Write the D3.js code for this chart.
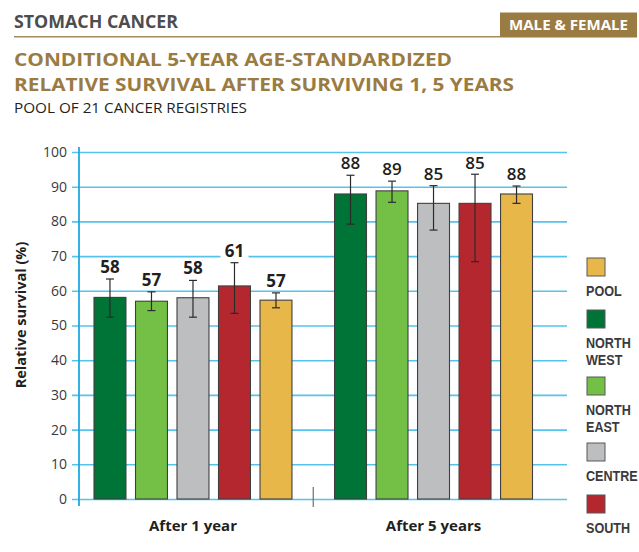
<!DOCTYPE html>
<html>
<head>
<meta charset="utf-8">
<script src="https://cdn.jsdelivr.net/npm/d3@7"></script>
<style>
  html, body { margin: 0; padding: 0; background: #fff; }
  svg { display: block; font-family: "Open Sans", "Noto Sans", sans-serif; }
</style>
</head>
<body>
<svg id="chart" width="639" height="552"></svg>
<script>
// ---- data ----
const groups = ["After 1 year", "After 5 years"];
const regions = ["NORTH WEST", "NORTH EAST", "CENTRE", "SOUTH", "POOL"];
const regionColors = ["#007337", "#74bf45", "#bcbec0", "#b5272f", "#e7b74a"];
const values1 = [58.1, 57.0, 58.0, 61.4, 57.3];
const errLow1 = [52.4, 54.3, 52.4, 53.5, 55.1];
const errHigh1 = [63.4, 59.7, 63.0, 68.1, 59.4];
const labels1 = ["58", "57", "58", "61", "57"];
const values5 = [87.9, 88.8, 85.2, 85.2, 87.9];
const errLow5 = [79.2, 85.5, 77.5, 68.4, 85.2];
const errHigh5 = [93.3, 91.6, 90.3, 93.6, 90.2];
const labels5 = ["88", "89", "85", "85", "88"];
const yTicks = [0, 10, 20, 30, 40, 50, 60, 70, 80, 90, 100];
const legendOrder = ["POOL", "NORTH WEST", "NORTH EAST", "CENTRE", "SOUTH"];

const rows = [];
[[values1, errLow1, errHigh1, labels1], [values5, errLow5, errHigh5, labels5]].forEach((s, gi) => {
  regions.forEach((r, i) => rows.push({
    group: groups[gi], gi, region: r, ci: i,
    value: s[0][i], lo: s[1][i], hi: s[2][i], label: s[3][i]
  }));
});

const svg = d3.select("#chart");
const gold = "#9a7b42";

// ---- header ----
svg.append("text").attr("x", 14).attr("y", 28)
  .attr("font-size", 17).attr("font-weight", "bold").attr("fill", "#4d4d4f")
  .attr("textLength", 164).attr("lengthAdjust", "spacingAndGlyphs")
  .text("STOMACH CANCER");
svg.append("line").attr("x1", 14).attr("x2", 500).attr("y1", 36.8).attr("y2", 36.8)
  .attr("stroke", "#a58c5f").attr("stroke-width", 1.5);
svg.append("rect").attr("x", 500).attr("y", 12.5).attr("width", 137).attr("height", 25)
  .attr("fill", gold);
svg.append("text").attr("x", 509).attr("y", 30)
  .attr("font-size", 15).attr("font-weight", "bold").attr("fill", "#fff")
  .attr("textLength", 119).attr("lengthAdjust", "spacingAndGlyphs")
  .text("MALE & FEMALE");

svg.append("text").attr("x", 14).attr("y", 65.5)
  .attr("font-size", 18.5).attr("font-weight", "bold").attr("fill", gold)
  .attr("textLength", 438).attr("lengthAdjust", "spacingAndGlyphs")
  .text("CONDITIONAL 5-YEAR AGE-STANDARDIZED");
svg.append("text").attr("x", 14).attr("y", 90.7)
  .attr("font-size", 18.5).attr("font-weight", "bold").attr("fill", gold)
  .attr("textLength", 500).attr("lengthAdjust", "spacingAndGlyphs")
  .text("RELATIVE SURVIVAL AFTER SURVIVING 1, 5 YEARS");
svg.append("text").attr("x", 14).attr("y", 112.5)
  .attr("font-size", 15).attr("fill", "#231f20")
  .attr("textLength", 233).attr("lengthAdjust", "spacingAndGlyphs")
  .text("POOL OF 21 CANCER REGISTRIES");

// ---- scales ----
const xLeft = 79, xRight = 567;
const y = d3.scaleLinear().domain([0, 100]).range([499, 152]);
const x0 = d3.scaleBand().domain(groups).range([xLeft + 15, xRight - 34.5])
  .paddingInner(0.177).paddingOuter(0);
const x1 = d3.scaleBand().domain(regions).range([0, x0.bandwidth()])
  .paddingInner(0.23).paddingOuter(0);
const color = d3.scaleOrdinal().domain(regions).range(regionColors);

// ---- grid & axis ----
const yAxis = d3.axisLeft(y).tickValues(yTicks).tickSize(-(xRight - xLeft)).tickSizeOuter(0).tickPadding(12);
const ga = svg.append("g").attr("transform", `translate(${xLeft},0)`).call(yAxis);
ga.select(".domain").remove();
ga.selectAll(".tick line").attr("stroke", "#55c3ee").attr("stroke-width", 1.6).attr("x1", -7);
ga.selectAll(".tick text").attr("font-size", 14).attr("fill", "#3a3a3c")
  .attr("font-family", "'Open Sans', sans-serif");
svg.append("line").attr("x1", xLeft).attr("x2", xLeft).attr("y1", 147).attr("y2", 506)
  .attr("stroke", "#1fa9e1").attr("stroke-width", 1.8);

svg.append("text")
  .attr("transform", `translate(26,315) rotate(-90)`)
  .attr("text-anchor", "middle").attr("font-size", 14.5).attr("font-weight", "bold")
  .attr("fill", "#231f20")
  .text("Relative survival (%)");

// separator tick between groups
const sepX = (x0(groups[0]) + x0.bandwidth() + x0(groups[1])) / 2;
svg.append("line").attr("x1", sepX).attr("x2", sepX).attr("y1", 487).attr("y2", 507)
  .attr("stroke", "#6d6e71").attr("stroke-width", 1.2);

// ---- bars ----
const bx = d => x0(d.group) + x1(d.region);
const bars = svg.append("g");
bars.selectAll("rect").data(rows).join("rect")
  .attr("x", d => bx(d))
  .attr("y", d => y(d.value))
  .attr("width", x1.bandwidth())
  .attr("height", d => y(0) - y(d.value))
  .attr("fill", d => color(d.region))
  .attr("stroke", "#3f3f3f").attr("stroke-width", 1.1);

// error bars
const eb = svg.append("g").attr("stroke", "#2b2b2b").attr("stroke-width", 1.2);
rows.forEach(d => {
  const cx = bx(d) + x1.bandwidth() / 2;
  eb.append("line").attr("x1", cx).attr("x2", cx).attr("y1", y(d.hi)).attr("y2", y(d.lo));
  eb.append("line").attr("x1", cx - 4).attr("x2", cx + 4).attr("y1", y(d.hi)).attr("y2", y(d.hi));
  eb.append("line").attr("x1", cx - 4).attr("x2", cx + 4).attr("y1", y(d.lo)).attr("y2", y(d.lo));
});

// value labels
const lab = svg.append("g");
rows.forEach(d => {
  const cx = bx(d) + x1.bandwidth() / 2;
  const cy = Math.max(y(d.hi) - 12, 163);
  lab.append("rect").attr("x", cx - 14).attr("y", cy - 9).attr("width", 28).attr("height", 18)
    .attr("fill", "#fff");
  lab.append("text").attr("x", cx).attr("y", cy + 6)
    .attr("text-anchor", "middle").attr("font-size", 17)
    .attr("font-weight", d.gi === 0 ? "bold" : "600")
    .attr("fill", "#231f20").text(d.label);
});

// group labels
groups.forEach(g => {
  svg.append("text").attr("x", x0(g) + x0.bandwidth() / 2).attr("y", 531)
    .attr("text-anchor", "middle").attr("font-size", 15).attr("font-weight", "bold")
    .attr("fill", "#231f20").text(g);
});

// ---- legend ----
const legTops = [258, 310, 377, 443, 495];
const leg = svg.append("g");
legendOrder.forEach((r, i) => {
  const top = legTops[i];
  leg.append("rect").attr("x", 587).attr("y", top).attr("width", 18).attr("height", 18)
    .attr("fill", color(r)).attr("stroke", "#58595b").attr("stroke-width", 1);
  r.split(" ").forEach((w, k) => {
    leg.append("g").attr("transform", `translate(586,${top + 38 + k * 16.5}) scale(0.9,1)`)
      .append("text").attr("x", 0).attr("y", 0)
      .attr("font-family", "'Liberation Sans', Arial, sans-serif")
      .attr("font-size", 14).attr("font-weight", "bold").attr("fill", "#3a3a3c")
      .text(w);
  });
});
</script>
</body>
</html>
